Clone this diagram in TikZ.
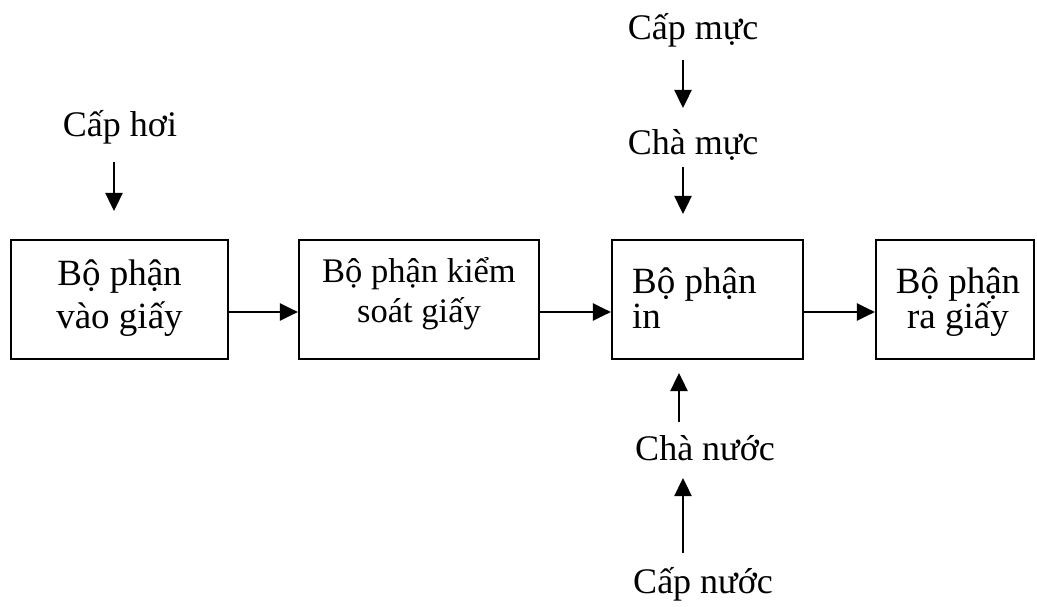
\documentclass[tikz,border=0pt]{standalone}
\usepackage{fontspec}
\setmainfont{Liberation Serif}
\usetikzlibrary{arrows.meta}
\begin{document}
\begin{tikzpicture}[x=1pt,y=-1pt,
  blk/.style={draw,line width=2.2pt,inner sep=0pt},
  txt/.style={anchor=base,inner sep=0pt,font=\fontsize{37}{40}\selectfont},
  txtl/.style={anchor=base west,inner sep=0pt,font=\fontsize{37}{40}\selectfont},
  txts/.style={anchor=base,inner sep=0pt,font=\fontsize{34.5}{38}\selectfont},
  lbl/.style={anchor=base,inner sep=0pt,font=\fontsize{36}{40}\selectfont},
  arr/.style={line width=2.4pt,-{Triangle[length=18pt,width=17pt]}}]
\useasboundingbox (0,0) rectangle (1037,607);
% boxes
\node[blk,minimum width=217pt,minimum height=119pt] (b1) at (119.5,299.5) {};
\node[blk,minimum width=240pt,minimum height=119pt] (b2) at (419,299.5) {};
\node[blk,minimum width=191pt,minimum height=119pt] (b3) at (707.5,299.5) {};
\node[blk,minimum width=158pt,minimum height=119pt] (b4) at (955,299.5) {};
% box texts
\node[txt] (t1a) at (119.5,285) {Bộ phận};
\node[txt] (t1b) at (119.5,328) {vào giấy};
\node[txts] (t2a) at (419,282) {Bộ phận kiểm};
\node[txts] (t2b) at (419,322) {soát giấy};
\node[txtl] (t3a) at (632,293) {Bộ phận};
\node[txtl] (t3b) at (632,328) {in};
\node[txt] (t4a) at (958,293) {Bộ phận};
\node[txt] (t4b) at (958,328) {ra giấy};
% main arrows
\draw[arr] ([yshift=-12.5pt]b1.east) -- ([yshift=-12.5pt]b2.west);
\draw[arr] ([yshift=-12.5pt]b2.east) -- ([yshift=-12.5pt]b3.west);
\draw[arr] ([yshift=-12.5pt]b3.east) -- ([yshift=-12.5pt]b4.west);
% labels
\node[lbl] (cho) at (120,137) {Cấp hơi};
\node[lbl] (cmu) at (693,40) {Cấp mực};
\node[lbl] (chm) at (693,155) {Chà mực};
\node[lbl] (chn) at (705,460) {Chà nước};
\node[lbl] (cnu) at (703,593) {Cấp nước};
% side arrows
\coordinate (p1s) at (114,162);
\coordinate (p1e) at (114,211);
\draw[arr] (p1s) -- (p1e);
\coordinate (p2s) at (683,60);
\coordinate (p2e) at (683,108);
\draw[arr] (p2s) -- (p2e);
\coordinate (p3s) at (683,167);
\coordinate (p3e) at (683,214);
\draw[arr] (p3s) -- (p3e);
\coordinate (p4s) at (679,422);
\coordinate (p4e) at (679,373);
\draw[arr] (p4s) -- (p4e);
\coordinate (p5s) at (683,553);
\coordinate (p5e) at (683,478);
\draw[arr] (p5s) -- (p5e);
\end{tikzpicture}
\end{document}
